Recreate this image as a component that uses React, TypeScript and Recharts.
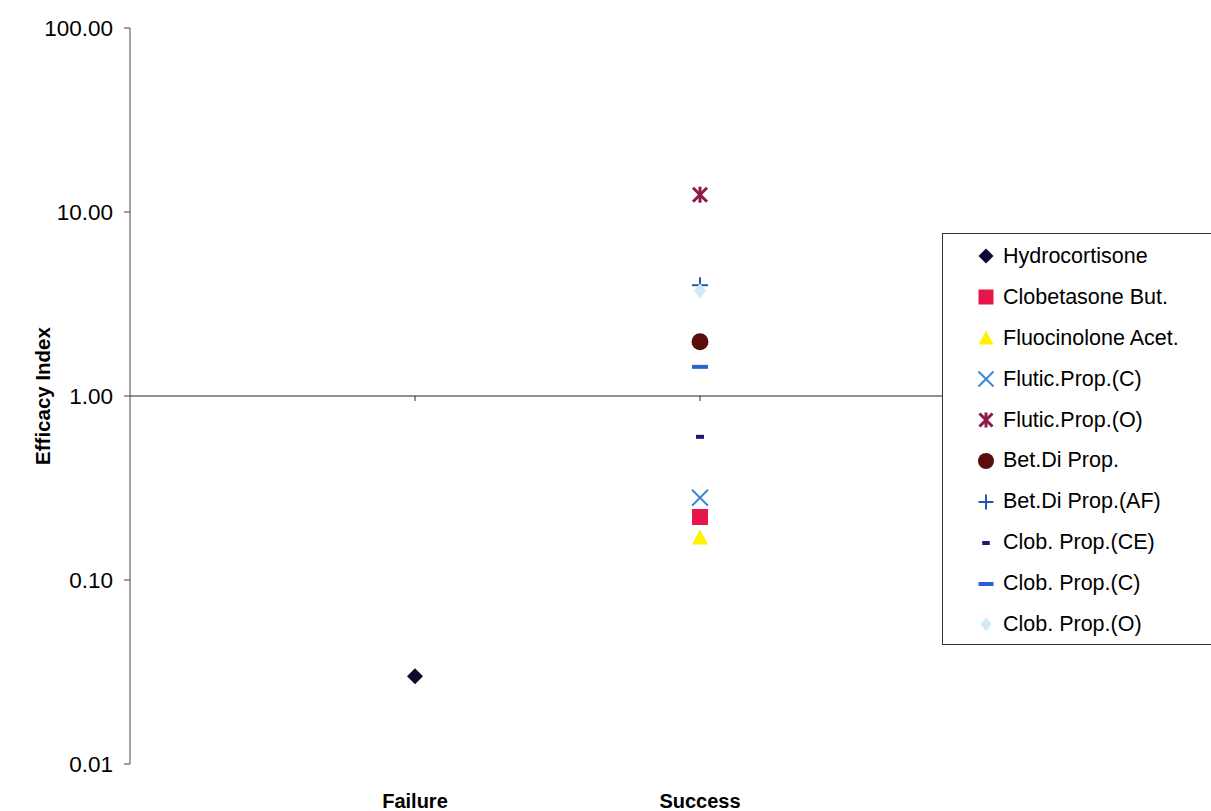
import { ScatterChart, Scatter, XAxis, YAxis, ReferenceLine, Label } from 'recharts';

const categories = ['', 'Failure', 'Success'];
const xTicks = [1, 2];
const yTicks = [0.01, 0.1, 1, 10, 100];

const seriesNames = [
  'Hydrocortisone',
  'Clobetasone But.',
  'Fluocinolone Acet.',
  'Flutic.Prop.(C)',
  'Flutic.Prop.(O)',
  'Bet.Di Prop.',
  'Bet.Di Prop.(AF)',
  'Clob. Prop.(CE)',
  'Clob. Prop.(C)',
  'Clob. Prop.(O)',
];
// 1 = Failure, 2 = Success
const seriesOutcome = [1, 2, 2, 2, 2, 2, 2, 2, 2, 2];
const seriesIndex = [0.03, 0.22, 0.17, 0.28, 12.4, 1.97, 4.0, 0.6, 1.44, 3.75];

type Kind = 'diamond' | 'square' | 'triangle' | 'x' | 'star' | 'circle' | 'plus' | 'shortDash' | 'dash' | 'lightDiamond';

const markerKinds: Kind[] = ['diamond', 'square', 'triangle', 'x', 'star', 'circle', 'plus', 'shortDash', 'dash', 'lightDiamond'];
const markerColors = [
  '#0b0b2e',
  '#e8154b',
  '#fff200',
  '#3f86d8',
  '#8b1a4b',
  '#5b0c0c',
  '#2458a8',
  '#1b1b70',
  '#2e62d4',
  '#cfeaf8',
];

const FONT = '"Liberation Sans", Arial, sans-serif';

function Marker({ kind, cx, cy, color, s = 8 }: { kind: Kind; cx: number; cy: number; color: string; s?: number }) {
  switch (kind) {
    case 'diamond':
      return <polygon points={`${cx},${cy - s} ${cx + s},${cy} ${cx},${cy + s} ${cx - s},${cy}`} fill={color} />;
    case 'lightDiamond':
      return <polygon points={`${cx},${cy - s + 1} ${cx + s - 2},${cy} ${cx},${cy + s} ${cx - s + 2},${cy}`} fill={color} />;
    case 'square':
      return <rect x={cx - s} y={cy - s} width={2 * s} height={2 * s} fill={color} />;
    case 'triangle':
      return <polygon points={`${cx},${cy - s} ${cx + s},${cy + s - 1} ${cx - s},${cy + s - 1}`} fill={color} />;
    case 'circle':
      return <circle cx={cx} cy={cy} r={s + 0.5} fill={color} />;
    case 'x':
      return (
        <g stroke={color} strokeWidth={2}>
          <line x1={cx - s} y1={cy - s} x2={cx + s} y2={cy + s} />
          <line x1={cx - s} y1={cy + s} x2={cx + s} y2={cy - s} />
        </g>
      );
    case 'star':
      return (
        <g stroke={color} strokeWidth={3}>
          <line x1={cx - s + 1} y1={cy - s + 1} x2={cx + s - 1} y2={cy + s - 1} />
          <line x1={cx - s + 1} y1={cy + s - 1} x2={cx + s - 1} y2={cy - s + 1} />
          <line x1={cx} y1={cy - s} x2={cx} y2={cy + s} />
        </g>
      );
    case 'plus':
      return (
        <g stroke={color} strokeWidth={2}>
          <line x1={cx - s} y1={cy} x2={cx + s} y2={cy} />
          <line x1={cx} y1={cy - s} x2={cx} y2={cy + s} />
        </g>
      );
    case 'shortDash':
      return <rect x={cx - s / 2} y={cy - 2} width={s} height={4} fill={color} />;
    case 'dash':
      return <rect x={cx - s} y={cy - 2} width={2 * s} height={4} fill={color} />;
  }
  return null;
}

const tickDrop = Math.pow(10, -5 / 184);

export default function App() {
  return (
    <div style={{ position: 'absolute', left: 0, top: 0, width: 1211, height: 811, background: '#fff' }}>
      <ScatterChart width={1211} height={811} margin={{ top: 28, right: 226, bottom: 0, left: 0 }}>
        <XAxis
          type="number"
          dataKey="x"
          domain={[0, 3]}
          ticks={xTicks}
          axisLine={false}
          tickLine={false}
          tickSize={0}
          height={47}
          interval={0}
          tick={(p: any) => (
            <text
              x={p.x}
              y={p.y}
              dy={42}
              textAnchor="middle"
              fontFamily={FONT}
              fontSize={20}
              fontWeight="bold"
              fill="#000"
            >
              {categories[p.payload.value]}
            </text>
          )}
        />
        <YAxis
          type="number"
          dataKey="y"
          scale="log"
          domain={[0.01, 100]}
          ticks={yTicks}
          allowDataOverflow
          width={130}
          tickSize={6}
          tickMargin={11}
          tickFormatter={(v: number) => v.toFixed(2)}
          tick={{ fontFamily: FONT, fontSize: 22.5, fill: '#000' }}
          axisLine={{ stroke: '#444' }}
          tickLine={{ stroke: '#444' }}
        >
          <Label
            content={(p: any) => {
              const vb = p.viewBox;
              const cx = vb.x + 42;
              const cy = vb.y + vb.height / 2;
              return (
                <text
                  x={cx}
                  y={cy}
                  transform={`rotate(-90 ${cx} ${cy})`}
                  textAnchor="middle"
                  dominantBaseline="central"
                  fontFamily={FONT}
                  fontSize={20.5}
                  fontWeight="bold"
                  fill="#000"
                >
                  Efficacy Index
                </text>
              );
            }}
          />
        </YAxis>
        <ReferenceLine y={1} stroke="#222" strokeWidth={1} />
        {xTicks.map((t) => (
          <ReferenceLine
            key={t}
            segment={[
              { x: t, y: 1 },
              { x: t, y: tickDrop },
            ]}
            stroke="#222"
          />
        ))}
        {seriesNames.map((name, i) => (
          <Scatter
            key={name}
            name={name}
            data={[{ x: seriesOutcome[i], y: seriesIndex[i] }]}
            isAnimationActive={false}
            shape={(p: any) => <Marker kind={markerKinds[i]} cx={p.cx} cy={p.cy} color={markerColors[i]} />}
          />
        ))}
      </ScatterChart>
      <div
        style={{
          position: 'absolute',
          left: 942,
          top: 233,
          width: 275,
          height: 412,
          border: '1px solid #333',
          background: '#fff',
          boxSizing: 'border-box',
          paddingTop: 2,
          fontFamily: FONT,
          fontSize: 21.5,
          color: '#000',
        }}
      >
        {seriesNames.map((name, i) => (
          <div key={name} style={{ height: 40.9, display: 'flex', alignItems: 'center' }}>
            <svg width={20} height={20} style={{ marginLeft: 33, marginRight: 7, flex: 'none' }}>
              <Marker kind={markerKinds[i]} cx={10} cy={10} color={markerColors[i]} s={7.5} />
            </svg>
            <span style={{ whiteSpace: 'nowrap' }}>{name}</span>
          </div>
        ))}
      </div>
    </div>
  );
}
